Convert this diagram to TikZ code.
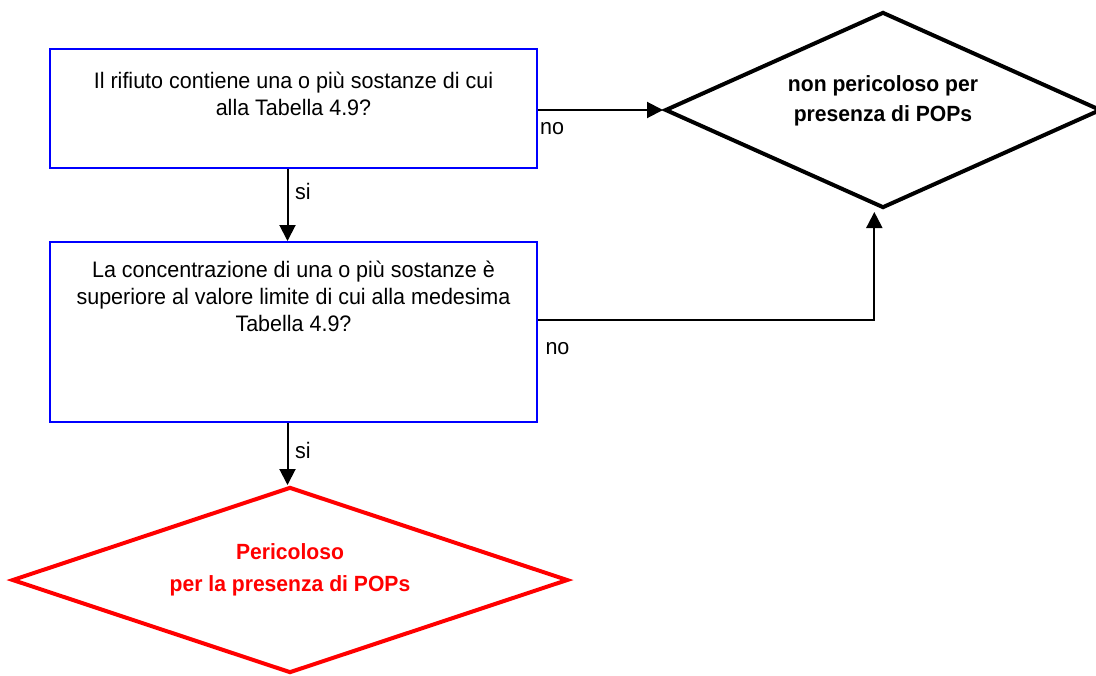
\documentclass[tikz,border=0pt]{standalone}
\usepackage{fontspec}
\setmainfont{Liberation Sans}[FakeStretch=0.96]
\usetikzlibrary{shapes.geometric,arrows.meta,positioning}
\begin{document}
\begin{tikzpicture}[x=0.75pt,y=-0.75pt,
    qbox/.style={draw=blue,line width=1.5pt,minimum width=365pt,inner sep=0pt},
    qtext/.style={align=center,inner sep=0pt,font=\fontsize{16.8}{20.25}\selectfont},
    esito/.style={diamond,line width=3pt,inner sep=0pt},
    etext/.style={align=center,inner sep=0pt,font=\bfseries\fontsize{16.5}{#1}\selectfont},
    freccia/.style={line width=1.5pt,-{Triangle[length=12pt,width=12pt]}},
    lab/.style={inner sep=1pt,font=\fontsize{16.8}{20}\selectfont}]
      \useasboundingbox (0,0) rectangle (1096,675);
      \node[qbox,minimum height=89.25pt] (q1) at (293.5,108.5) {};
      \node[qtext,below=18pt of q1.north] (t1) {Il rifiuto contiene una o più sostanze di cui\\alla Tabella 4.9?};
      \node[qbox,minimum height=135pt] (q2) at (293.5,332) {};
      \node[qtext,below=15pt of q2.north] (t2) {La concentrazione di una o più sostanze è\\superiore al valore limite di cui alla medesima\\Tabella 4.9?};
      \node[esito,draw=black,minimum width=327pt,minimum height=147pt] (d1) at (883,110) {};
      \node[etext=22.5pt] (t3) at (883,101) {non pericoloso per\\presenza di POPs};
      \node[esito,draw=red,minimum width=417pt,minimum height=139.5pt] (d2) at (290,580) {};
      \node[etext=24pt,text=red] (t4) at (290,570) {Pericoloso\\per la presenza di POPs};
      \draw[freccia] (q1.east |- d1.west) -- node[lab,pos=0,below right=7.5pt and 0pt] {no} (d1.west);
      \draw[freccia] ([xshift=-4.5pt]q1.south) -- node[lab,pos=0.31,right=4pt] {si} ([xshift=-4.5pt]q2.north);
      \draw[freccia] ([yshift=9pt]q2.east) -| node[lab,pos=0,below right=15pt and 4pt] {no} ([xshift=-6.5pt,yshift=-1.5pt]d1.south);
      \draw[freccia] ([xshift=-4.5pt]q2.south) -- node[lab,pos=0.45,right=4pt] {si} ([xshift=-4.5pt]q2.south |- d2.north);
\end{tikzpicture}
\end{document}
